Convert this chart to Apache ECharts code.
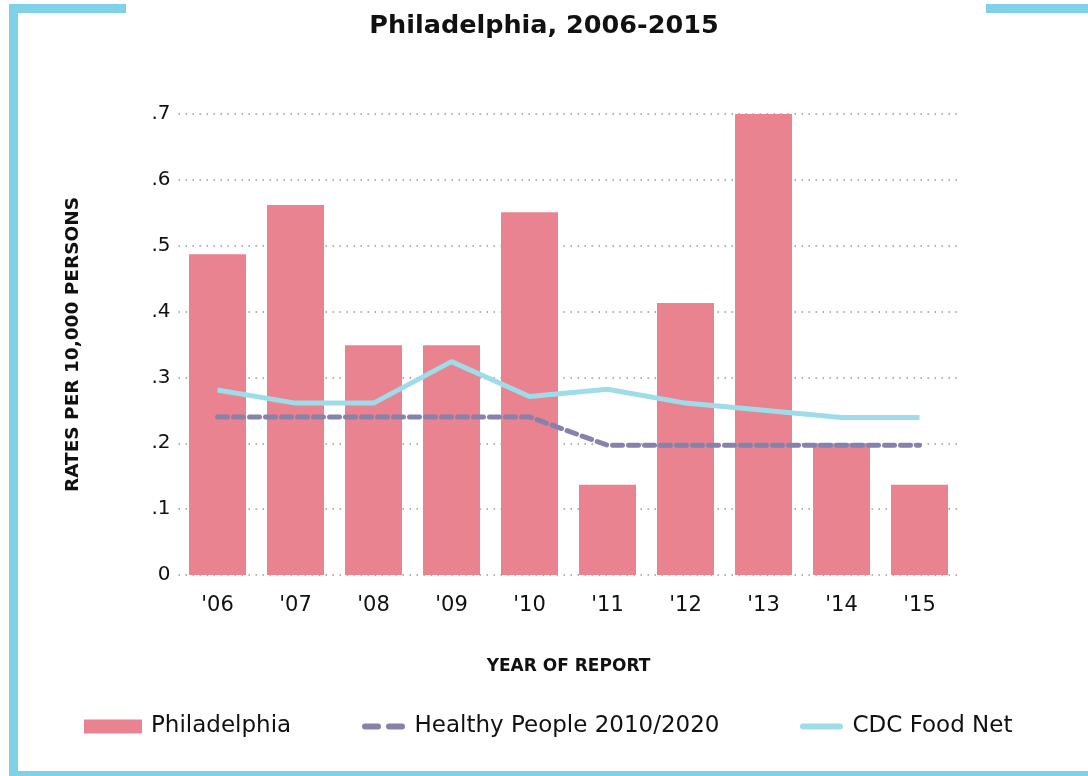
<!DOCTYPE html>
<html>
<head>
<meta charset="utf-8">
<script src="https://cdn.jsdelivr.net/npm/echarts@6/dist/echarts.min.js"></script>
<style>
html,body{margin:0;padding:0;background:#fff;}
#chart{width:1088px;height:776px;}
</style>
</head>
<body>
<div id="chart"></div>
<script>
const categories = ["'06","'07","'08","'09","'10","'11","'12","'13","'14","'15"];
const philadelphia = [0.487, 0.562, 0.349, 0.349, 0.551, 0.137, 0.413, 0.700, 0.200, 0.137];
const healthyPeople = [0.24, 0.24, 0.24, 0.24, 0.24, 0.197, 0.197, 0.197, 0.197, 0.197];
const cdcFoodNet = [0.281, 0.261, 0.261, 0.324, 0.271, 0.282, 0.261, 0.250, 0.239, 0.239];
const yTicks = [0, 0.1, 0.2, 0.3, 0.4, 0.5, 0.6, 0.7];

const FONT = 'DejaVu Sans';
const FRAME = '#7ED1E6';
const chart = echarts.init(document.getElementById('chart'));

function fmtY(v){
  if (Math.abs(v) < 1e-9) return '0';
  return v.toFixed(1).replace(/^0/, '');
}

const dashIcon = 'path://M3,0h13a3,3 0 0 1 0,6h-13a3,3 0 0 1 0,-6z M27,0h13a3,3 0 0 1 0,6h-13a3,3 0 0 1 0,-6z';
const lineIcon = 'path://M3,0h37a3,3 0 0 1 0,6h-37a3,3 0 0 1 0,-6z';
const legendText = { fontFamily: FONT, fontSize: 23, color: '#111', padding: [0,0,0,4] };

chart.setOption({
  animation: false,
  backgroundColor: '#fff',
  textStyle: { fontFamily: FONT },
  title: {
    text: 'Rates of Confirmed Salmonellosis Cases by Year of Report,\nPhiladelphia, 2006-2015',
    left: 'center',
    top: -40,
    textStyle: { fontFamily: FONT, fontSize: 25.5, fontWeight: 'bold', color: '#111', lineHeight: 41 }
  },
  grid: { left: 178.5, right: 129.5, top: 114, bottom: 201, containLabel: false },
  xAxis: {
    type: 'category',
    data: categories,
    name: 'YEAR OF REPORT',
    nameLocation: 'middle',
    nameGap: 83,
    nameTextStyle: { fontFamily: FONT, fontSize: 17, fontWeight: 'bold', color: '#111' },
    axisLine: { show: false },
    axisTick: { show: false },
    axisLabel: { fontFamily: FONT, fontSize: 21, color: '#111', margin: 20 }
  },
  yAxis: {
    type: 'value',
    min: yTicks[0],
    max: yTicks[yTicks.length - 1],
    interval: 0.1,
    name: 'RATES PER 10,000 PERSONS',
    nameLocation: 'middle',
    nameGap: 96,
    nameRotate: 90,
    nameTextStyle: { fontFamily: FONT, fontSize: 18.5, fontWeight: 'bold', color: '#111' },
    axisLine: { show: false },
    axisTick: { show: false },
    axisLabel: { fontFamily: FONT, fontSize: 20, color: '#111', margin: 8, formatter: fmtY },
    splitLine: { show: true, lineStyle: { color: '#999', width: 1.5, type: [1.5, 5.5] } }
  },
  legend: [
    { data: [{ name: 'Philadelphia', icon: 'rect' }], left: 84, top: 715, padding: 0, itemWidth: 58, itemHeight: 14,
      textStyle: legendText },
    { data: [{ name: 'Healthy People 2010/2020', icon: dashIcon }], left: 362, top: 715, padding: 0, itemWidth: 44, itemHeight: 6,
      textStyle: legendText },
    { data: [{ name: 'CDC Food Net', icon: lineIcon }], left: 800, top: 715, padding: 0, itemWidth: 44, itemHeight: 6,
      textStyle: legendText }
  ],
  series: [
    { name: 'Philadelphia', type: 'bar', data: philadelphia, barWidth: 57,
      itemStyle: { color: '#E8838F' }, z: 1 },
    { name: 'Healthy People 2010/2020', type: 'line', data: healthyPeople, symbol: 'none',
      lineStyle: { color: '#8682AB', width: 5, type: [10, 6], cap: 'round' },
      itemStyle: { color: '#8682AB' }, z: 3 },
    { name: 'CDC Food Net', type: 'line', data: cdcFoodNet, symbol: 'none',
      lineStyle: { color: '#9EDCEA', width: 5 },
      itemStyle: { color: '#9EDCEA' }, z: 4 }
  ],
  graphic: [
    { type: 'rect', shape: { x: 9, y: 4, width: 9, height: 772 }, style: { fill: FRAME }, z: 100 },
    { type: 'rect', shape: { x: 9, y: 4, width: 117, height: 9 }, style: { fill: FRAME }, z: 100 },
    { type: 'rect', shape: { x: 986, y: 4, width: 102, height: 9 }, style: { fill: FRAME }, z: 100 },
    { type: 'rect', shape: { x: 9, y: 771, width: 1079, height: 5 }, style: { fill: FRAME }, z: 100 }
  ]
});
</script>
</body>
</html>
